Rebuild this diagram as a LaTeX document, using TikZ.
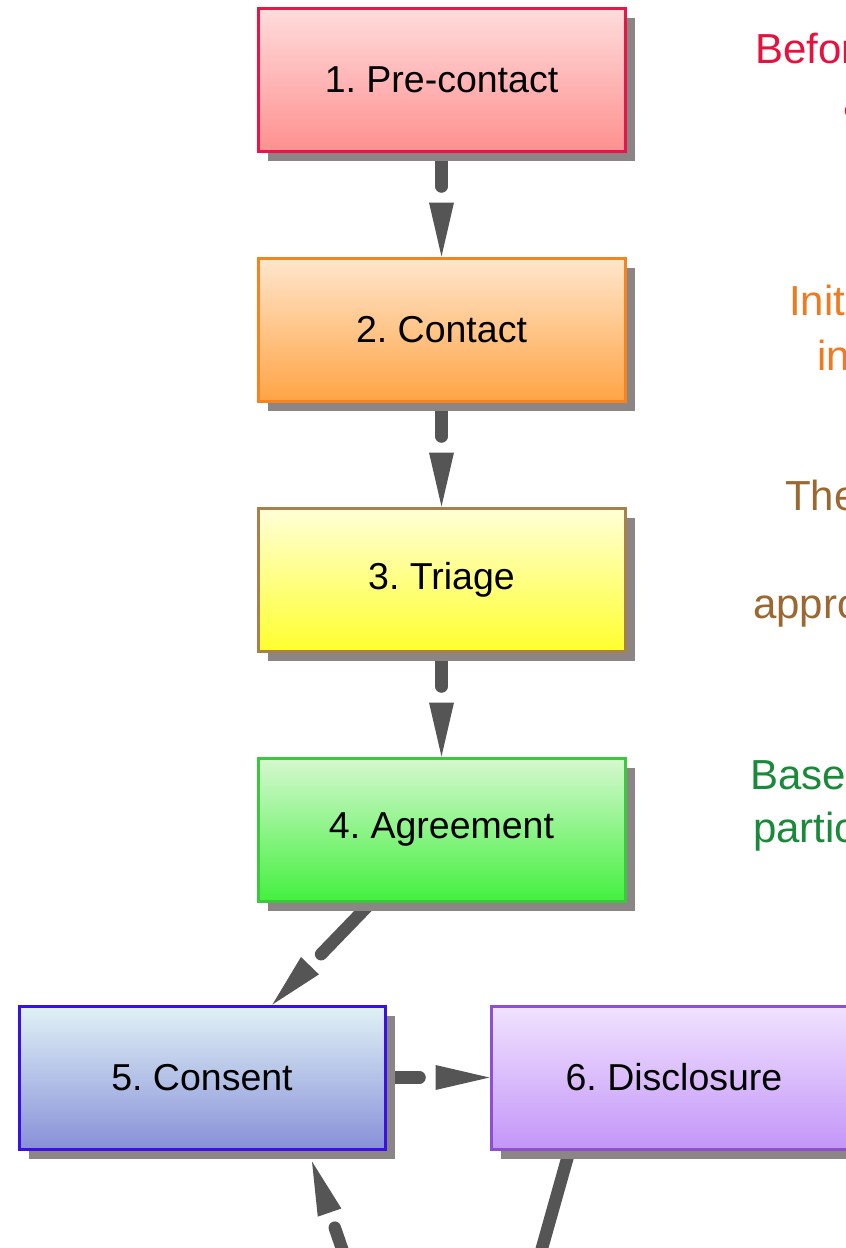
\documentclass[tikz,border=0pt]{standalone}
\usepackage{fontspec}
\setmainfont{Liberation Sans}
\usetikzlibrary{calc,shadows}
\pgfdeclarelayer{bg}
\pgfsetlayers{bg,main}
\frenchspacing
\definecolor{shadowc}{HTML}{8C8585}
\definecolor{arrowc}{HTML}{555555}
\definecolor{rA}{HTML}{E8144A}\definecolor{rTop}{HTML}{FFDCDC}\definecolor{rBot}{HTML}{FF9090}
\definecolor{oA}{HTML}{F5841F}\definecolor{oTop}{HTML}{FFE6CC}\definecolor{oBot}{HTML}{FFA445}
\definecolor{yA}{HTML}{A8804A}\definecolor{yTop}{HTML}{FFFFD8}\definecolor{yBot}{HTML}{FFFF2E}
\definecolor{gA}{HTML}{3CC83C}\definecolor{gTop}{HTML}{D6F8D0}\definecolor{gBot}{HTML}{44F040}
\definecolor{bA}{HTML}{3A10E8}\definecolor{bTop}{HTML}{E0F2F6}\definecolor{bBot}{HTML}{8890D8}
\definecolor{vA}{HTML}{8E50D0}\definecolor{vTop}{HTML}{F0E2FF}\definecolor{vBot}{HTML}{C496F8}
\definecolor{txR}{HTML}{E8103C}
\definecolor{txO}{HTML}{F07A20}
\definecolor{txB}{HTML}{9A6830}
\definecolor{txG}{HTML}{1A8A3A}
\tikzset{
  stepbox/.style={draw, line width=3pt, minimum width=367pt, minimum height=143pt,
    inner sep=0pt, font=\fontsize{37.5}{45}\selectfont,
    drop shadow={shadow xshift=10pt, shadow yshift=-10pt, fill=shadowc, opacity=1}},
  shaft/.style={draw=arrowc, line width=12.5pt, line cap=round},
  headfill/.style={fill=arrowc},
  side/.style={anchor=base west, inner sep=0pt, font=\fontsize{42}{54}\selectfont}
}
\newcommand\flowarrow[2]{%
  \path (#1) -- (#2) coordinate[pos=0] (aS) coordinate[pos=1] (aT);
  \coordinate (aH) at ($(aT)!54pt!(aS)$);
  \coordinate (aE) at ($(aT)!70pt!(aS)$);
  \draw[shaft] (aS) -- (aE);
  \fill[headfill] (aT) -- ($(aH)!12.5pt!90:(aT)$) -- ($(aH)!12.5pt!-90:(aT)$) -- cycle;
}
\begin{document}
\begin{tikzpicture}[x=1pt,y=-1pt]
\useasboundingbox (0,0) rectangle (846,1248);
\clip (0,0) rectangle (846,1248);

\node[stepbox, draw=rA, top color=rTop, bottom color=rBot] (b1) at (441.5,79.5) {1. Pre-contact};
\node[stepbox, draw=oA, top color=oTop, bottom color=oBot] (b2) at (441.5,329.5) {2. Contact};
\node[stepbox, draw=yA, top color=yTop, bottom color=yBot] (b3) at (441.5,579.5) {3. Triage};
\node[stepbox, draw=gA, top color=gTop, bottom color=gBot] (b4) at (441.5,829.5) {4. Agreement};
\node[stepbox, draw=bA, top color=bTop, bottom color=bBot, minimum width=366pt] (b5) at (202,1077.5) {5. Consent};
\node[stepbox, draw=vA, top color=vTop, bottom color=vBot, minimum width=366pt] (b6) at (674,1077.5) {6. Disclosure};

\coordinate (c7a) at (381,1362);
\coordinate (c7b) at (513,1351);

\begin{pgfonlayer}{bg}
\clip (0,0) rectangle (846,1248);
\fill[white] (0,0) rectangle (846,1248);
\flowarrow{b1}{b2}
\flowarrow{b2}{b3}
\flowarrow{b3}{b4}
\flowarrow{b4}{b5}
\flowarrow{b5}{b6}
\flowarrow{c7a}{$(b5.south)+(110,11)$}
\draw[shaft] ($(b6.south west)+(80,0)$) -- (c7b);
\end{pgfonlayer}

\node[side, text=txR] (t1a) at (755,63) {Befor};
\node[side, text=txR] (t1b) at (843,117) {a};
\node[side, text=txO] (t2a) at (789,315) {Init};
\node[side, text=txO] (t2b) at (817,370) {in};
\node[side, text=txB] (t3a) at (785,510) {The};
\node[side, text=txB] (t3b) at (753,618) {appro};
\node[side, text=txG] (t4a) at (750,789) {Base};
\node[side, text=txG] (t4b) at (753,842) {partic};
\end{tikzpicture}
\end{document}
